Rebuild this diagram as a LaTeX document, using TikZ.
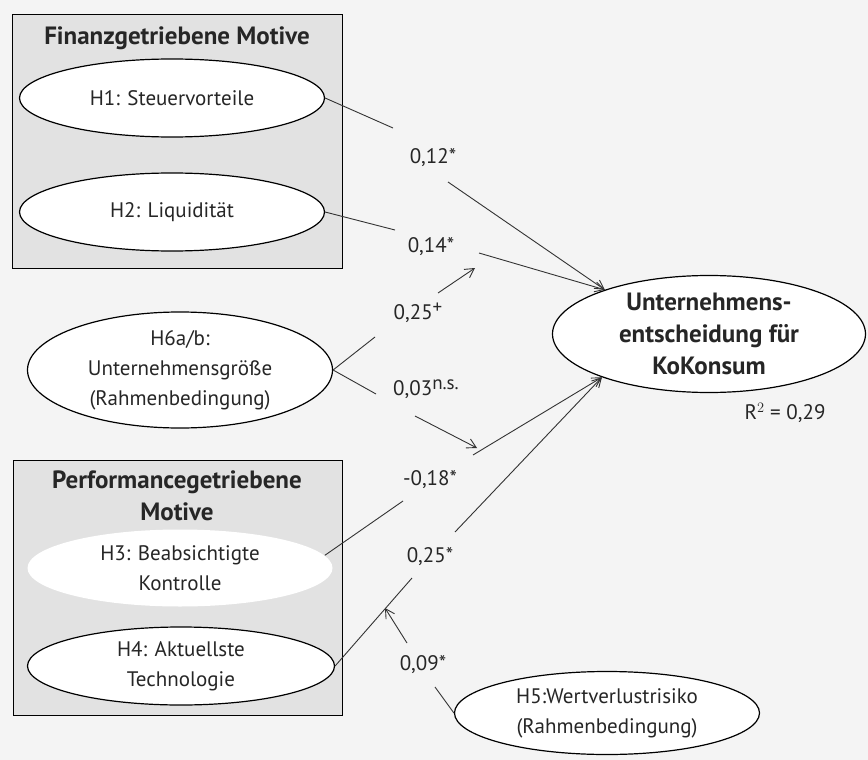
\documentclass[tikz,border=0pt]{standalone}
\usepackage{fontspec}
\setmainfont{PT Sans}
\usepackage{xcolor}
\usetikzlibrary{shapes.geometric, arrows.meta, positioning}
\definecolor{paper}{HTML}{F4F4F4}
\definecolor{boxgray}{HTML}{E2E2E2}
\newcommand{\hochzahl}[1]{\raisebox{6pt}{\fontsize{19}{19}\selectfont #1}}

\begin{document}
\begin{tikzpicture}[x = 1pt, y = -1pt,
    every node/.style = {font = \fontsize{21}{30}\selectfont, text = black!85},
    hyp/.style = {ellipse, draw, line width = 1.2pt, fill = white, align = center, inner sep = 0pt},
    titel/.style = {font = \fontsize{25}{32}\selectfont\bfseries, align = center},
    motivbox/.style = {draw, line width = 1pt, fill = boxgray},
    eff/.style = {line width = 0.9pt, black!80},
    effarr/.style = {eff, -{Straight Barb[length = 9pt, width = 10pt]}}]
    % hintergrund
    \fill[paper] (0,0) rectangle (868,760);
    \useasboundingbox (0,0) rectangle (868,760);

    % motivgruppen
    \draw[motivbox] (12,15) rectangle (342,268);
    \draw[motivbox] (13,460) rectangle (342,715);
    \node[titel] (finanz) at (177,38) {Finanzgetriebene Motive};
    \node[titel] (perf) at (177,496) {Performancegetriebene\\Motive};

    % hypothesen
    \node[hyp, minimum width = 305pt, minimum height = 78pt] (h1) at (172,98) {H1: Steuervorteile};
    \node[hyp, minimum width = 305pt, minimum height = 78pt] (h2) at (172,212) {H2: Liquidität};
    \node[hyp, minimum width = 305pt, minimum height = 116pt] (h6) at (180,370) {H6a/b:\\Unternehmensgröße\\(Rahmenbedingung)};
    \node[hyp, draw = none, minimum width = 305pt, minimum height = 77pt] (h3) at (180,568) {H3: Beabsichtigte\\Kontrolle};
    \node[hyp, minimum width = 307pt, minimum height = 78pt] (h4) at (181,666) {H4: Aktuellste\\Technologie};
    \node[hyp, minimum width = 305pt, minimum height = 83pt] (h5) at (607,713) {H5:Wertverlustrisiko\\(Rahmenbedingung)};
    \node[hyp, minimum width = 313pt, minimum height = 117pt, titel] (kok) at (709,334) {Unternehmens-\\entscheidung für\\KoKonsum};
    \node (rsq) at (785,413) {R$^{2}$ = 0,29};

    % koeffizienten
    \node (c1) at (433,158) {0,12*};
    \node (c2) at (431,247) {0,14*};
    \node (c6a) at (418,313) {0,25\hochzahl{+}};
    \node (c6b) at (426,389) {0,03\hochzahl{n.s.}};
    \node (c3) at (430,480) {-0,18*};
    \node (c4) at (430,557) {0,25*};
    \node (c5) at (423,665) {0,09*};

    % knickpunkte
    \coordinate (k1a) at (393,128);
    \coordinate (k1b) at (448,182);
    \coordinate (k2a) at (395,230);
    \coordinate (k2b) at (479,253);
    \coordinate (k6a) at (375,337);
    \coordinate (k6b) at (438,293);
    \coordinate (k6c) at (475,268);
    \coordinate (k7a) at (376,394);
    \coordinate (k7b) at (415,416);
    \coordinate (k7c) at (477,448);
    \coordinate (k3a) at (403,501);
    \coordinate (k3b) at (473,455);
    \coordinate (k4a) at (412,578);
    \coordinate (k4b) at (455,532);
    \coordinate (k5a) at (435,687);
    \coordinate (k5b) at (407,643);
    \coordinate (k5c) at (385,608);

    % pfade
    \draw[eff] (h1.east) -- (k1a);
    \draw[effarr] (k1b) -- (kok.157);
    \draw[eff] (h2.east) -- (k2a);
    \draw[effarr] (k2b) -- (kok.157);
    \draw[eff] (h6.east) -- (k6a);
    \draw[effarr] (k6b) -- (k6c);
    \draw[eff] (h6.east) -- (k7a);
    \draw[effarr] (k7b) -- (k7c);
    \draw[eff] (h3.5) -- (k3a);
    \draw[effarr] (k3b) -- (kok.202);
    \draw[eff] (h4.east) -- (k4a);
    \draw[effarr] (k4b) -- (kok.202);
    \draw[eff] (h5.west) -- (k5a);
    \draw[effarr] (k5b) -- (k5c);
\end{tikzpicture}
\end{document}
